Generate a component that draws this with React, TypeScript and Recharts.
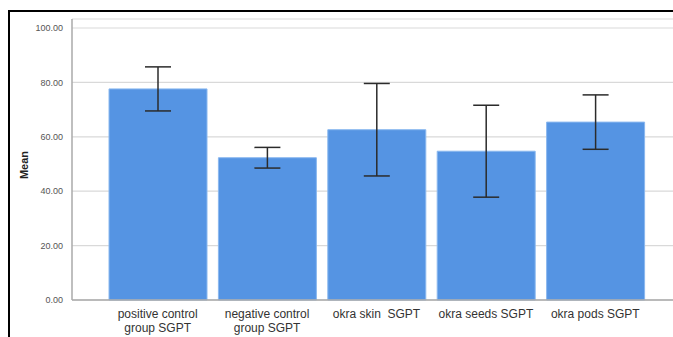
import { BarChart, Bar, XAxis, YAxis, CartesianGrid, ErrorBar } from "recharts";

const groups = [
  "positive control|group SGPT",
  "negative control|group SGPT",
  "okra skin  SGPT",
  "okra seeds SGPT",
  "okra pods SGPT",
];
const means = [77.6, 52.3, 62.6, 54.7, 65.4];
const errors = [8.1, 3.8, 17.0, 16.9, 10.0];
const yTicks = [0, 20, 40, 60, 80, 100];

const data = groups.map((g, i) => ({ name: g, mean: means[i], err: errors[i] }));

function GroupTick(props: any) {
  const { x, y, payload } = props;
  const lines = String(payload.value).split("|");
  return (
    <text x={x} y={y} textAnchor="middle" fill="#333" fontSize={12} fontFamily="Liberation Sans, Arial, sans-serif">
      {lines.map((l, i) => (
        <tspan key={i} x={x} dy={i === 0 ? 10 : 14} style={{ whiteSpace: "pre" }}>
          {l}
        </tspan>
      ))}
    </text>
  );
}

function MeanLabel() {
  return (
    <text
      x={28}
      y={165}
      transform="rotate(-90 28 165)"
      textAnchor="middle"
      fontSize={11}
      fontWeight="bold"
      fill="#222"
      fontFamily="Liberation Sans, Arial, sans-serif"
    >
      Mean
    </text>
  );
}

export default function App() {
  return (
    <div style={{ position: "absolute", left: 0, top: 0, width: 673, height: 337, overflow: "hidden", background: "#fff" }}>
      <div
        style={{
          position: "absolute",
          left: 8,
          top: 10,
          width: 680,
          height: 340,
          borderLeft: "2.5px solid #000",
          borderTop: "2.5px solid #000",
        }}
      />
      <div style={{ position: "absolute", left: 0, top: 0 }}>
        <BarChart width={673} height={337} data={data} margin={{ top: 19, right: 0, bottom: 0, left: 0 }}>
          <CartesianGrid vertical={false} stroke="#d9d9d9" strokeWidth={1.2} />
          <XAxis
            dataKey="name"
            tick={<GroupTick />}
            tickLine={false}
            axisLine={{ stroke: "#aaa", strokeWidth: 1.5 }}
            padding={{ left: 31, right: 23 }}
            interval={0}
            height={37}
          />
          <YAxis
            width={72}
            domain={[0, 103.3]}
            ticks={yTicks}
            tickFormatter={(v: number) => v.toFixed(2)}
            tick={{ fontSize: 9, fill: "#555", fontFamily: "Liberation Sans, Arial, sans-serif" }}
            tickLine={false}
            axisLine={{ stroke: "#aaa", strokeWidth: 1.5 }}
            tickMargin={3}
            label={<MeanLabel />}
          />
          <Bar dataKey="mean" fill="#5594e3" stroke="#8ab8ef" strokeWidth={1} barSize={98} isAnimationActive={false}>
            <ErrorBar dataKey="err" width={13} stroke="#2b2b2b" strokeWidth={1.5} />
          </Bar>
        </BarChart>
      </div>
    </div>
  );
}
